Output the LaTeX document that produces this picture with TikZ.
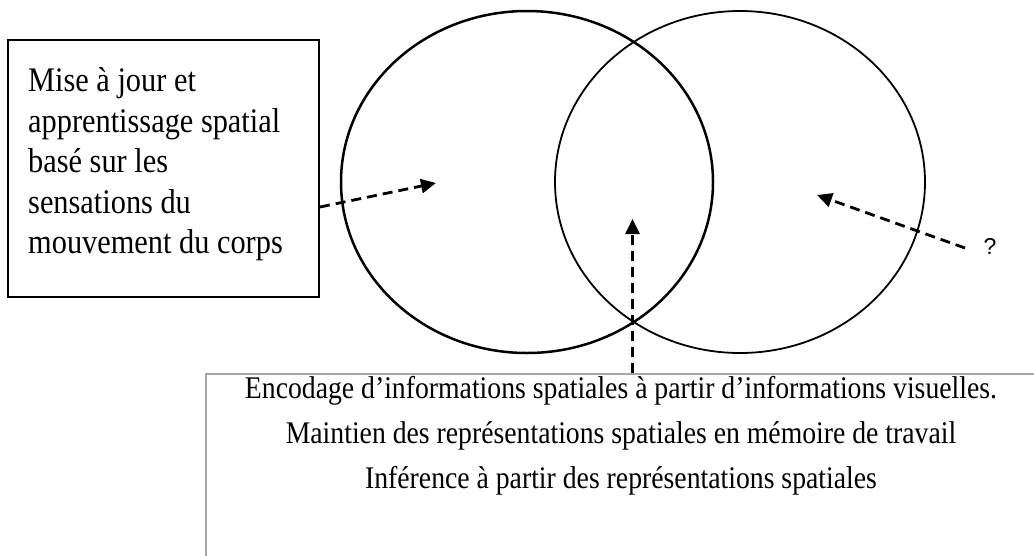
\documentclass[tikz,border=0pt]{standalone}
\usepackage{fontspec}
\setmainfont{Liberation Serif}
\newfontfamily\tallserif[FakeStretch=0.88]{Liberation Serif}
\newfontfamily\qfont{Liberation Sans}
\usetikzlibrary{arrows.meta,shapes.geometric}
\begin{document}
\begin{tikzpicture}[x=1pt,y=-1pt,
  dasharrow/.style={line width=2.8pt, dash pattern=on 10pt off 6pt, -{Triangle[length=15pt,width=14pt]}},
  venn/.style={draw, ellipse, inner sep=0, minimum width=372pt, minimum height=342pt},
  txt/.style={inner sep=0}]
\useasboundingbox (0,0) rectangle (1034,555);
\fill[white] (0,0) rectangle (1034,555);
% ellipses
\node[venn, line width=2.5pt] (L) at (527,182) {};
\node[venn, line width=1.8pt, minimum width=370pt] (R) at (740,182) {};
% left box
\node[draw, line width=2pt, minimum width=311pt, minimum height=257pt, inner sep=0] (lbox) at (163.5,168.5) {};
\node[txt, anchor=north west, align=left, font=\tallserif\fontsize{34.5}{40.5}\selectfont] (ltext) at (28,67.5)
  {Mise à jour et\\apprentissage spatial\\basé sur les\\sensations du\\mouvement du corps};
% bottom box
\begin{scope}
\clip (0,0) rectangle (1034,555);
\node[draw=black!35, line width=1.5pt, minimum width=832pt, minimum height=200pt, anchor=north west, inner sep=0] (bbox) at (205,373) {};
\end{scope}
\node[txt, anchor=north, align=center, font=\tallserif\fontsize{31.5}{45}\selectfont] (btext) at (621,376)
  {Encodage d’informations spatiales à partir d’informations visuelles.\\
   Maintien des représentations spatiales en mémoire de travail\\
   Inférence à partir des représentations spatiales};
% question mark
\node[txt, font=\qfont\fontsize{23}{27}\selectfont] (q) at (990,246) {?};
% arrows
\coordinate (a1s) at (319,207);
\coordinate (a1t) at (436,183);
\coordinate (a2t) at (632.5,219);
\coordinate (a3s) at (965,248);
\coordinate (a3t) at (817,195);
\draw[dasharrow] (lbox.east |- a1s) -- (a1t);
\draw[dasharrow] (bbox.north -| a2t) -- (a2t);
\draw[dasharrow] (a3s) -- (a3t);
\end{tikzpicture}
\end{document}
